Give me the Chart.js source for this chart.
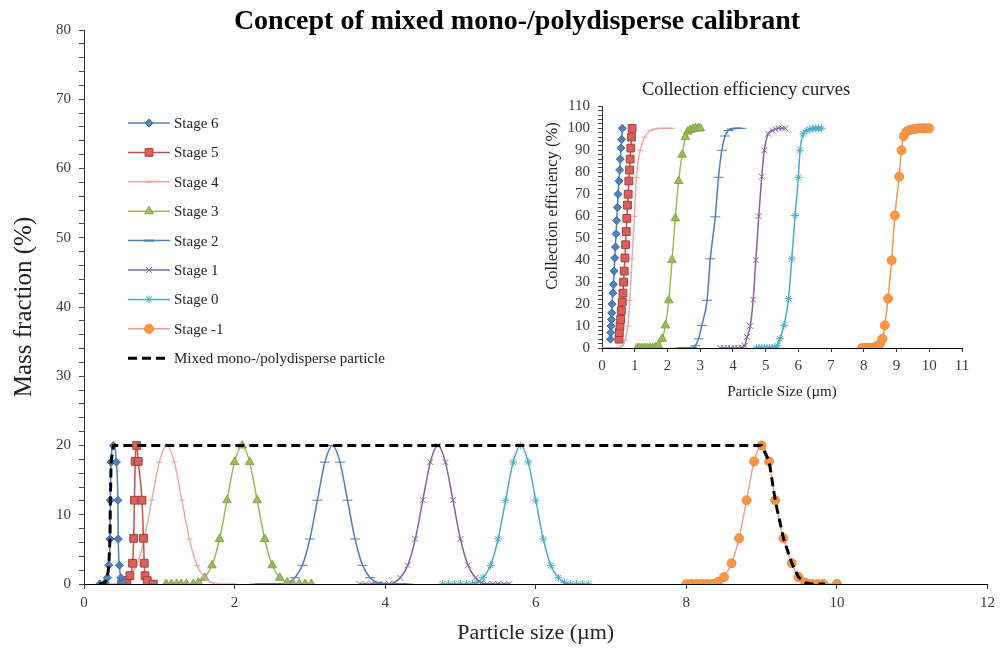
<!DOCTYPE html>
<html>
<head>
<meta charset="utf-8">
<title>Concept of mixed mono-/polydisperse calibrant</title>
<script src="https://cdn.jsdelivr.net/npm/chart.js@4.4.0/dist/chart.umd.min.js"></script>
<style>
  html, body { margin: 0; padding: 0; background: #fff; }
  #wrap { position: relative; width: 1000px; height: 650px; }
  #mainChart { position: absolute; left: 0; top: 0; width: 1000px; height: 650px; }
  #insetChart { position: absolute; left: 530px; top: 72px; width: 450px; height: 335px; }
</style>
</head>
<body>
<div id="wrap">
  <canvas id="mainChart" width="1000" height="650"></canvas>
  <canvas id="insetChart" width="450" height="335"></canvas>
</div>
<script>
const SERIF = '"Liberation Serif", "Times New Roman", serif';

// Mass fraction (%) vs particle size (µm)
const stage6X = [0.21, 0.28, 0.31, 0.33, 0.345, 0.35, 0.36, 0.39, 0.43, 0.45, 0.455, 0.47, 0.49, 0.52];
const stage6Y = [0, 0.2, 0.9, 2.7, 6.5, 12.1, 17.6, 20, 17.6, 12.1, 6.5, 2.7, 0.9, 0.2];
const stage5X = [0.50, 0.57, 0.61, 0.645, 0.66, 0.67, 0.68, 0.70, 0.72, 0.77, 0.79, 0.80, 0.81, 0.84, 0.92];
const stage5Y = [0, 0.5, 1.2, 3.0, 6.6, 12.1, 17.7, 20, 17.7, 12.1, 6.6, 3.0, 1.2, 0.5, 0];
const stage4X = [0.2, 0.3, 0.4, 0.5, 0.6, 0.7, 0.8, 0.9, 1.0, 1.1, 1.2, 1.3, 1.4, 1.5, 1.6, 1.7, 1.8, 1.9, 2.0];
const stage4Y = [0, 0, 0, 0.2, 0.9, 2.7, 6.5, 12.1, 17.6, 20, 17.6, 12.1, 6.5, 2.7, 0.9, 0.2, 0, 0, 0];
const stage3X = [1.09, 1.16, 1.23, 1.29, 1.36, 1.45, 1.52, 1.6, 1.7, 1.8, 1.9, 2.0, 2.1, 2.2, 2.3, 2.4, 2.5, 2.6, 2.7, 2.78, 2.86, 2.94, 3.02];
const stage3Y = [0, 0, 0, 0, 0, 0, 0.2, 0.9, 2.7, 6.5, 12.1, 17.6, 20, 17.6, 12.1, 6.5, 2.7, 0.9, 0.2, 0, 0, 0, 0];
const stage2X = [2.27, 2.35, 2.43, 2.5, 2.57, 2.64, 2.72, 2.8, 2.9, 3.0, 3.1, 3.2, 3.3, 3.4, 3.5, 3.6, 3.7, 3.8, 3.9, 4.0, 4.1, 4.2, 4.3];
const stage2Y = [0, 0, 0, 0, 0, 0, 0.2, 0.9, 2.7, 6.5, 12.1, 17.6, 20, 17.6, 12.1, 6.5, 2.7, 0.9, 0.2, 0, 0, 0, 0];
const stage1X = [3.66, 3.74, 3.82, 3.9, 3.98, 4.05, 4.12, 4.2, 4.3, 4.4, 4.5, 4.6, 4.7, 4.8, 4.9, 5.0, 5.1, 5.2, 5.28, 5.35, 5.43, 5.5, 5.58, 5.65];
const stage1Y = [0, 0, 0, 0, 0, 0, 0.2, 0.9, 2.7, 6.5, 12.1, 17.6, 20, 17.6, 12.1, 6.5, 2.7, 0.9, 0.2, 0, 0, 0, 0, 0];
const stage0X = [4.76, 4.84, 4.92, 5.0, 5.08, 5.16, 5.22, 5.3, 5.4, 5.5, 5.6, 5.7, 5.8, 5.9, 6.0, 6.1, 6.2, 6.3, 6.38, 6.46, 6.54, 6.62, 6.7];
const stage0Y = [0, 0, 0, 0, 0, 0, 0.2, 0.9, 2.7, 6.5, 12.1, 17.6, 20, 17.6, 12.1, 6.5, 2.7, 0.9, 0.2, 0, 0, 0, 0];
const stageM1X = [8.0, 8.07, 8.14, 8.21, 8.28, 8.35, 8.42, 8.5, 8.6, 8.7, 8.8, 8.9, 9.0, 9.1, 9.18, 9.29, 9.4, 9.49, 9.58, 9.66, 9.74, 9.82, 10.0];
const stageM1Y = [0, 0, 0, 0, 0, 0, 0.3, 1.0, 3.0, 6.6, 12.1, 17.7, 20, 17.7, 12.1, 6.6, 3.0, 1.0, 0.2, 0, 0, 0, 0];
const mixedX = [0.2, 0.28, 0.31, 0.33, 0.345, 0.35, 0.36, 0.39, 9.0, 9.1, 9.18, 9.29, 9.4, 9.49, 9.58, 9.66, 9.74, 9.84];
const mixedY = [0, 0.2, 0.9, 2.7, 6.5, 12.1, 17.6, 20, 20, 17.7, 12.1, 6.6, 3.0, 1.0, 0.2, 0, 0, 0];

// Collection efficiency (%) vs particle size (µm)
const eff6X = [0.26, 0.27, 0.28, 0.29, 0.30, 0.31, 0.33, 0.35, 0.37, 0.39, 0.41, 0.43, 0.45, 0.47, 0.49, 0.52, 0.54, 0.56, 0.58, 0.60, 0.62];
const eff6Y = [4, 7, 10, 13, 16, 20, 25, 29, 35, 41, 46, 52, 58, 64, 70, 76, 81, 86, 91, 95, 100];
const eff5X = [0.52, 0.53, 0.55, 0.57, 0.59, 0.62, 0.64, 0.66, 0.68, 0.70, 0.72, 0.74, 0.76, 0.78, 0.80, 0.82, 0.84, 0.86, 0.88, 0.90, 0.92];
const eff5Y = [4, 7, 10, 13, 17, 21, 25, 30, 35, 41, 47, 53, 59, 65, 70, 76, 81, 86, 91, 96, 100];
const eff4X = [0.05, 0.2, 0.35, 0.5, 0.62, 0.7, 0.79, 0.85, 0.92, 0.99, 1.05, 1.17, 1.3, 1.48, 1.6, 1.75, 1.9, 2.05, 2.14];
const eff4Y = [0, 0, 0, 0.2, 1, 3.5, 10, 21.7, 40.6, 60, 77.7, 90, 96, 99, 99.6, 100, 100, 100, 100];
const eff3X = [1.07, 1.15, 1.23, 1.31, 1.39, 1.47, 1.55, 1.63, 1.72, 1.84, 1.94, 2.04, 2.14, 2.24, 2.34, 2.45, 2.55, 2.62, 2.70, 2.78, 2.86, 2.94, 3.0];
const eff3Y = [0, 0, 0, 0, 0, 0, 0, 0.3, 1.2, 4.2, 10.3, 21.7, 40, 59, 76, 88, 96, 98.5, 99.3, 99.7, 100, 100, 100];
const eff2X = [2.34, 2.45, 2.55, 2.65, 2.75, 2.85, 2.95, 3.05, 3.21, 3.31, 3.46, 3.56, 3.66, 3.76, 3.86, 3.96, 4.06, 4.16, 4.26];
const eff2Y = [0, 0, 0, 0, 0.2, 1, 4.2, 10.3, 21.7, 40.6, 59.7, 77.7, 90, 96.5, 99, 99.7, 100, 100, 100];
const eff1X = [3.61, 3.72, 3.83, 3.94, 4.05, 4.16, 4.27, 4.36, 4.43, 4.53, 4.62, 4.70, 4.79, 4.88, 4.96, 5.08, 5.2, 5.3, 5.4, 5.5, 5.6];
const eff1Y = [0, 0, 0, 0, 0, 0, 0.3, 1, 5, 10, 22, 40, 60, 78, 90, 97.5, 99, 99.6, 100, 100, 100];
const eff0X = [4.72, 4.8, 4.88, 4.96, 5.04, 5.12, 5.2, 5.28, 5.36, 5.44, 5.56, 5.70, 5.80, 5.90, 6.0, 6.05, 6.15, 6.26, 6.35, 6.44, 6.53, 6.62, 6.71];
const eff0Y = [0, 0, 0, 0, 0, 0, 0, 0.3, 1, 4.2, 10.3, 22.5, 40.6, 60.3, 77.7, 90, 97.5, 99, 99.5, 100, 100, 100, 100];
const effM1X = [7.95, 8.03, 8.11, 8.19, 8.27, 8.35, 8.43, 8.5, 8.57, 8.64, 8.74, 8.85, 8.95, 9.08, 9.15, 9.22, 9.3, 9.4, 9.5, 9.6, 9.7, 9.8, 9.9, 10.0];
const effM1Y = [0, 0, 0, 0, 0, 0.3, 1, 2, 4.2, 10.3, 22.5, 39.9, 60.3, 78, 90, 96.5, 98.5, 99.2, 99.6, 99.8, 100, 100, 100, 100];

const stageLabels = ["Stage 6", "Stage 5", "Stage 4", "Stage 3", "Stage 2", "Stage 1", "Stage 0", "Stage -1"];

// Excel-like line + marker look for each stage
const stageStyles = [
	{ borderColor: "#4F81BD", pointStyle: "rectRot", pointRadius: 4, pointBackgroundColor: "#4F81BD", pointBorderColor: "#3A6BA5" },
	{ borderColor: "#C0504D", pointStyle: "rect", pointRadius: 5.5, pointBackgroundColor: "#D9605C", pointBorderColor: "#A23F3C" },
	{ borderColor: "#EDA9A7", pointStyle: "line", pointRadius: 3, pointBackgroundColor: "#E8A3A1", pointBorderColor: "#E8A3A1" },
	{ borderColor: "#9BBB59", pointStyle: "triangle", pointRadius: 5, pointBackgroundColor: "#9BBB59", pointBorderColor: "#86A64A" },
	{ borderColor: "#4A7EBB", pointStyle: "line", pointRadius: 5, pointBackgroundColor: "#4A7EBB", pointBorderColor: "#4A7EBB" },
	{ borderColor: "#8064A2", pointStyle: "crossRot", pointRadius: 4, pointBackgroundColor: "#8064A2", pointBorderColor: "#8064A2" },
	{ borderColor: "#4BACC6", pointStyle: "star", pointRadius: 4, pointBackgroundColor: "#4BACC6", pointBorderColor: "#4BACC6" },
	{ borderColor: "#E6A095", pointStyle: "circle", pointRadius: 4.5, pointBackgroundColor: "#F79646", pointBorderColor: "#F08A38" },
];

function series(label, xs, ys, style) {
	return Object.assign(
		{
			label,
			data: xs.map((x, i) => ({ x, y: ys[i] })),
			showLine: true,
			fill: false,
			borderWidth: 1.5,
			pointBorderWidth: 1,
			pointHoverRadius: 0,
			cubicInterpolationMode: "monotone",
			order: 1,
		},
		style,
	);
}

// Free text placed at a fixed spot (chart title, rotated axis title)
const placedText = {
	id: "placedText",
	afterDraw(chart, args, opts) {
		const { ctx } = chart;
		(opts.items || []).forEach((item) => {
			ctx.save();
			ctx.translate(item.x, item.y);
			ctx.rotate(item.rotation || 0);
			ctx.fillStyle = item.color;
			ctx.font = item.font;
			ctx.textAlign = "center";
			ctx.textBaseline = "middle";
			ctx.fillText(item.text, 0, 0);
			ctx.restore();
		});
	},
};

// Legend drawn like Excel: short line with the marker in its middle
const lineLegend = {
	id: "lineLegend",
	afterDraw(chart, args, opts) {
		const { ctx } = chart;
		ctx.save();
		chart.data.datasets.forEach((ds, i) => {
			const y = opts.top + i * opts.rowHeight;
			ctx.lineWidth = ds.borderWidth;
			ctx.strokeStyle = ds.borderColor;
			ctx.setLineDash(ds.borderDash || []);
			ctx.beginPath();
			ctx.moveTo(opts.left, y);
			ctx.lineTo(opts.left + opts.lineLength, y);
			ctx.stroke();
			ctx.setLineDash([]);
			if (ds.pointRadius > 0) {
				ctx.fillStyle = ds.pointBackgroundColor;
				ctx.strokeStyle = ds.pointBorderColor;
				ctx.lineWidth = ds.pointStyle === "line" ? 2 : ds.pointBorderWidth;
				Chart.helpers.drawPoint(
					ctx,
					{ pointStyle: ds.pointStyle, radius: ds.pointRadius, borderWidth: ctx.lineWidth, rotation: 0 },
					opts.left + opts.lineLength / 2,
					y,
				);
			}
			ctx.fillStyle = opts.color;
			ctx.font = opts.font;
			ctx.textBaseline = "middle";
			ctx.textAlign = "left";
			ctx.fillText(ds.label, opts.left + opts.lineLength + opts.gap, y + 1);
		});
		ctx.restore();
	},
};

const massSeries = [
	[stage6X, stage6Y],
	[stage5X, stage5Y],
	[stage4X, stage4Y],
	[stage3X, stage3Y],
	[stage2X, stage2Y],
	[stage1X, stage1Y],
	[stage0X, stage0Y],
	[stageM1X, stageM1Y],
];

const effSeries = [
	[eff6X, eff6Y],
	[eff5X, eff5Y],
	[eff4X, eff4Y],
	[eff3X, eff3Y],
	[eff2X, eff2Y],
	[eff1X, eff1Y],
	[eff0X, eff0Y],
	[effM1X, effM1Y],
];

function axisTicks(size) {
	return { font: { family: SERIF, size }, color: "#3a3a3a" };
}

// Main chart: mass fraction distributions
const mainDatasets = massSeries.map(([xs, ys], i) => series(stageLabels[i], xs, ys, stageStyles[i]));
mainDatasets.push(
	series("Mixed mono-/polydisperse particle", mixedX, mixedY, {
		borderColor: "#000",
		borderWidth: 3,
		borderDash: [9, 5],
		pointRadius: 0,
		order: 0,
		cubicInterpolationMode: "default",
		tension: 0,
	}),
);

new Chart(document.getElementById("mainChart"), {
	type: "scatter",
	data: { datasets: mainDatasets },
	plugins: [lineLegend, placedText],
	options: {
		responsive: false,
		animation: false,
		devicePixelRatio: 1,
		layout: { padding: { left: 0, right: 11, top: 30, bottom: 0 } },
		plugins: {
			legend: { display: false },
			tooltip: { enabled: false },
			placedText: {
				items: [
					{
						text: "Concept of mixed mono-/polydisperse calibrant",
						x: 517,
						y: 22,
						color: "#000",
						font: `bold 28px ${SERIF}`,
					},
				],
			},
			lineLegend: {
				left: 128,
				top: 123,
				rowHeight: 29.4,
				lineLength: 42,
				gap: 4,
				color: "#222",
				font: `15px ${SERIF}`,
			},
		},
		scales: {
			x: {
				type: "linear",
				min: 0,
				max: 12,
				ticks: Object.assign(axisTicks(15), { stepSize: 2, padding: 5, maxRotation: 0 }),
				grid: { drawOnChartArea: false, tickLength: 5, color: "#333" },
				border: { color: "#000", width: 1 },
				title: {
					display: true,
					text: "Particle size (µm)",
					color: "#222",
					font: { family: SERIF, size: 22 },
					padding: { top: 0, bottom: 4 },
				},
				afterFit: (scale) => {
					scale.height = 66;
				},
			},
			y: {
				type: "linear",
				min: 0,
				max: 80,
				ticks: Object.assign(axisTicks(15), {
					stepSize: 2,
					autoSkip: false,
					padding: 8,
					callback: (v) => (v % 10 === 0 ? v : ""),
				}),
				grid: { drawOnChartArea: false, tickLength: 5, color: "#444" },
				border: { color: "#333", width: 1 },
				title: {
					display: true,
					text: "Mass fraction (%)",
					color: "#222",
					font: { family: SERIF, size: 25 },
					padding: { top: 9, bottom: 0 },
				},
				afterFit: (scale) => {
					scale.width = 84;
				},
			},
		},
	},
});

// Inset: collection efficiency curves
const insetDatasets = effSeries.map(([xs, ys], i) => {
	const style = Object.assign({}, stageStyles[i]);
	if (i === 7) style.borderColor = "#F79646";
	return series(stageLabels[i], xs, ys, style);
});

new Chart(document.getElementById("insetChart"), {
	type: "scatter",
	data: { datasets: insetDatasets },
	plugins: [placedText],
	options: {
		responsive: false,
		animation: false,
		devicePixelRatio: 1,
		layout: { padding: { left: 0, right: 18, top: 0, bottom: 0 } },
		plugins: {
			legend: { display: false },
			tooltip: { enabled: false },
			title: {
				display: true,
				text: "Collection efficiency curves",
				color: "#222",
				font: { family: SERIF, size: 18.5, weight: "normal", lineHeight: 1.1 },
				padding: { top: 8, bottom: 6 },
			},
			placedText: {
				items: [
					{
						text: "Collection efficiency (%)",
						x: 23,
						y: 134,
						rotation: -Math.PI / 2,
						color: "#222",
						font: `16.5px ${SERIF}`,
					},
				],
			},
		},
		scales: {
			x: {
				type: "linear",
				min: 0,
				max: 11,
				ticks: Object.assign(axisTicks(15), { stepSize: 1, padding: 5, maxRotation: 0 }),
				grid: { drawOnChartArea: false, tickLength: 4, color: "#333" },
				border: { color: "#000", width: 1 },
				title: {
					display: true,
					text: "Particle Size (µm)",
					color: "#222",
					font: { family: SERIF, size: 15 },
					padding: { top: 0, bottom: 6 },
				},
				afterFit: (scale) => {
					scale.height = 59;
				},
			},
			y: {
				type: "linear",
				min: 0,
				max: 110,
				ticks: Object.assign(axisTicks(15), {
					stepSize: 2,
					autoSkip: false,
					padding: 8,
					callback: (v) => (v % 10 === 0 ? v : ""),
				}),
				grid: { drawOnChartArea: false, tickLength: 4, color: "#444" },
				border: { color: "#333", width: 1 },
				afterFit: (scale) => {
					scale.width = 72;
				},
			},
		},
	},
});
</script>
</body>
</html>
